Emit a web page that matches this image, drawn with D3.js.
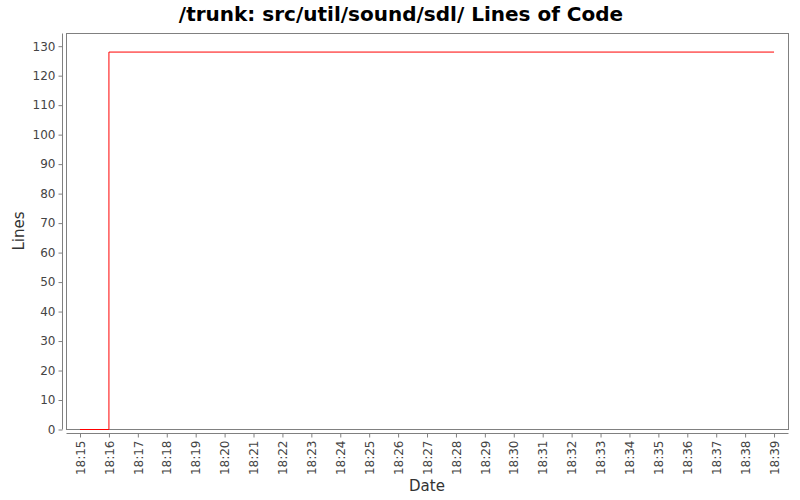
<!DOCTYPE html>
<html><head><meta charset="utf-8">
<script src="https://cdn.jsdelivr.net/npm/d3@7"></script>
<style>body{margin:0;background:#fff}svg{display:block}</style>
</head><body>
<svg id="c" width="800" height="500"></svg>
<script>
const dates = ["18:15","18:16","18:39"];
const lines = [0,128,128];
const tickLabels = ["18:15","18:16","18:17","18:18","18:19","18:20","18:21","18:22","18:23","18:24","18:25","18:26","18:27","18:28","18:29","18:30","18:31","18:32","18:33","18:34","18:35","18:36","18:37","18:38","18:39"];
const yTicks = [0,10,20,30,40,50,60,70,80,90,100,110,120,130];

const toMin = s => { const [h,m]=s.split(":").map(Number); return h*60+m; };
const svg = d3.select("#c");
const L=66.5, R=788.5, T=33.5, B=429.5;
const base = toMin("18:15");
const x = d3.scaleLinear().domain([base-0.467, base+24.5]).range([L,R]);
const y = d3.scaleLinear().domain([0,134.3]).range([B,T]);
const font = "DejaVu Sans, sans-serif";

svg.append("text").attr("x",401).attr("y",21).attr("text-anchor","middle")
  .attr("font-family",font).attr("font-weight","bold").attr("font-size",20).text("/trunk: src/util/sound/sdl/ Lines of Code");

svg.append("rect").attr("x",L).attr("y",T).attr("width",R-L).attr("height",B-T)
  .attr("fill","#fff").attr("stroke","#808080").attr("stroke-width",1);

// Y axis
const ya = svg.append("g").attr("transform","translate(62.5,0)")
  .call(d3.axisLeft(y).tickValues(yTicks).tickSize(4).tickPadding(3));
ya.select(".domain").attr("stroke","#808080").attr("d",`M0,${T}V${B}`);
ya.selectAll(".tick line").attr("stroke","#808080");
ya.selectAll(".tick text").attr("font-family",font).attr("font-size",12).attr("fill","#444");

// X axis
const xa = svg.append("g").attr("transform","translate(0,433.5)")
  .call(d3.axisBottom(x).tickValues(tickLabels.map(toMin)).tickFormat((d,i)=>tickLabels[i]).tickSize(4));
xa.select(".domain").attr("stroke","#808080").attr("d",`M${L},0H${R}`);
xa.selectAll(".tick line").attr("stroke","#808080");
xa.selectAll(".tick text").attr("font-family",font).attr("font-size",12).attr("fill","#444")
  .attr("transform","rotate(-90)").attr("text-anchor","end").attr("x",-7).attr("y",0).attr("dy","0.35em");

svg.append("text").attr("transform","translate(24,231) rotate(-90)").attr("text-anchor","middle")
  .attr("font-family",font).attr("font-size",15).attr("fill","#333").text("Lines");
svg.append("text").attr("x",427).attr("y",491).attr("text-anchor","middle")
  .attr("font-family",font).attr("font-size",15).attr("fill","#333").text("Date");

const data = dates.map((d,i)=>({t:toMin(d), v:lines[i]}));
const line = d3.line().x(d=>x(d.t)).y(d=>y(d.v)).curve(d3.curveStepAfter);
svg.append("path").datum(data).attr("d",line).attr("fill","none").attr("stroke","#ff0000").attr("stroke-width",1);
</script>
</body></html>
